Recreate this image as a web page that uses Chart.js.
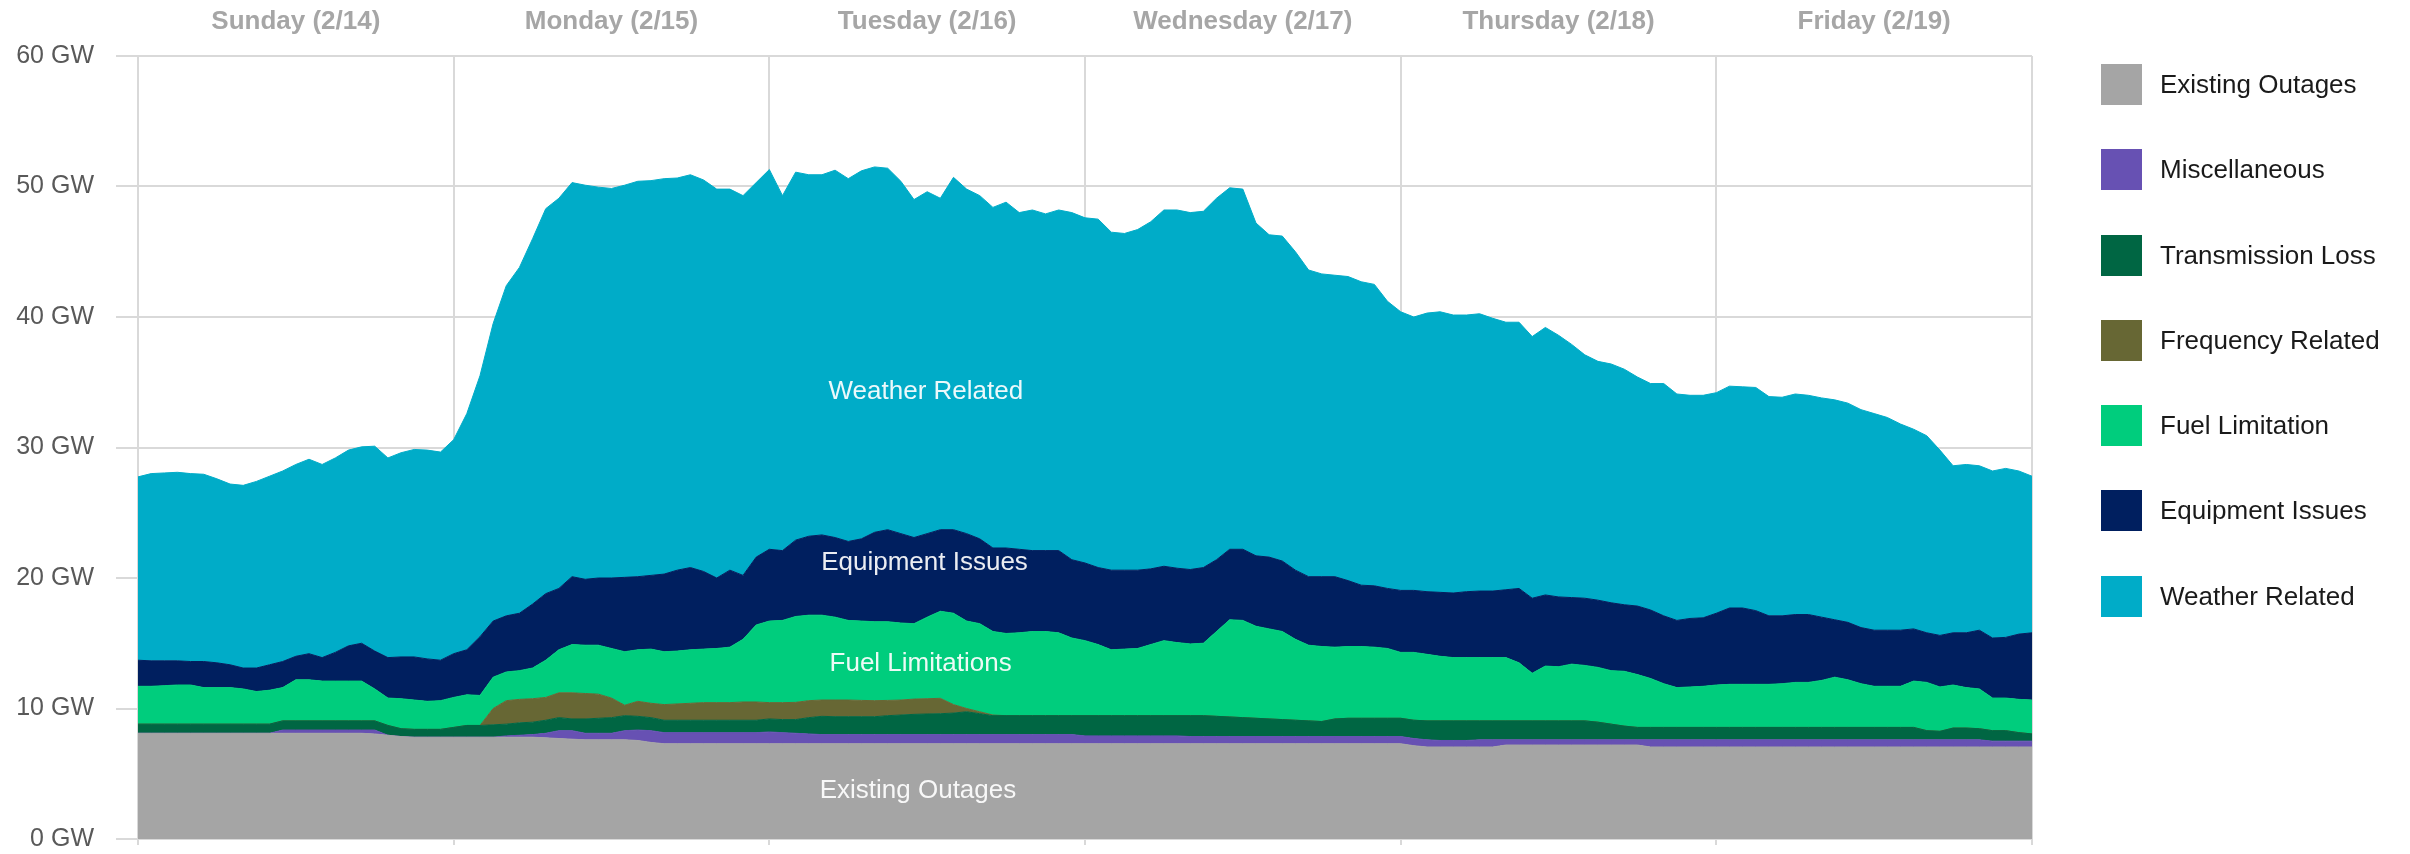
<!DOCTYPE html>
<html>
<head>
<meta charset="utf-8">
<title>Generation outages by cause</title>
<script src="https://cdn.jsdelivr.net/npm/chart.js@4.4.1/dist/chart.umd.min.js"></script>
<style>
  html, body { margin: 0; padding: 0; background: #fff; overflow: hidden; }
  #wrap   { position: relative; width: 2410px; height: 854px; }
  #legend { position: absolute; left: 2101px; top: 64px; font-family: "Liberation Sans", Arial, sans-serif; }
  .lg-item { display: flex; align-items: center; height: 41px; margin-bottom: 44.3px; }
  .lg-box  { width: 41px; height: 41px; flex: none; }
  .lg-text { margin-left: 18px; font-size: 26px; color: #1a1a1a; white-space: nowrap; }
</style>
</head>
<body>
<div id="wrap">
  <canvas id="outages" width="2410" height="854"></canvas>
  <div id="legend"></div>
</div>

<script>
/* ============================================================
   Outages by cause, hourly, Sun 2/14 – Fri 2/19 (GW)
   Each array is the top edge of its layer in the pile.
   ============================================================ */

const hours      = Array.from({ length: 145 }, (_, i) => i);   // hour 0 .. 144
const dayNames   = ['Sunday (2/14)', 'Monday (2/15)', 'Tuesday (2/16)', 'Wednesday (2/17)', 'Thursday (2/18)', 'Friday (2/19)'];
const dayCenters = [12, 36, 60, 84, 108, 132];
const yTicks     = [0, 10, 20, 30, 40, 50, 60];

const existingTop = [
  8.1, 8.1, 8.1, 8.1, 8.1, 8.1, 8.1, 8.1, 8.1, 8.1, 8.1, 8.1, 8.1, 8.1, 8.1, 8.1, 8.1, 8.1, 8.05, 7.95, 7.85, 7.8, 7.8, 7.8,
  7.8, 7.8, 7.8, 7.8, 7.8, 7.8, 7.8, 7.75, 7.7, 7.65, 7.6, 7.6, 7.6, 7.6, 7.55, 7.4, 7.3, 7.3, 7.3, 7.3, 7.3, 7.3, 7.3, 7.3,
  7.3, 7.3, 7.3, 7.3, 7.3, 7.3, 7.3, 7.3, 7.3, 7.3, 7.3, 7.3, 7.3, 7.3, 7.3, 7.3, 7.3, 7.3, 7.3, 7.3, 7.3, 7.3, 7.3, 7.3,
  7.3, 7.3, 7.3, 7.3, 7.3, 7.3, 7.3, 7.3, 7.3, 7.3, 7.3, 7.3, 7.3, 7.3, 7.3, 7.3, 7.3, 7.3, 7.3, 7.3, 7.3, 7.3, 7.3, 7.3,
  7.3, 7.15, 7.05, 7.05, 7.05, 7.05, 7.05, 7.05, 7.2, 7.2, 7.2, 7.2, 7.2, 7.2, 7.2, 7.2, 7.2, 7.2, 7.2, 7.05, 7.05, 7.05, 7.05, 7.05,
  7.05, 7.05, 7.05, 7.05, 7.05, 7.05, 7.05, 7.05, 7.05, 7.05, 7.05, 7.05, 7.05, 7.05, 7.05, 7.05, 7.05, 7.05, 7.05, 7.05, 7.05, 7.05, 7.05, 7.05, 7.05
];

const miscTop = [
  8.1, 8.1, 8.1, 8.1, 8.1, 8.1, 8.1, 8.1, 8.1, 8.1, 8.1, 8.35, 8.35, 8.35, 8.35, 8.35, 8.35, 8.35, 8.35, 7.95, 7.85, 7.8, 7.8, 7.8,
  7.8, 7.8, 7.8, 7.8, 7.9, 7.95, 8.0, 8.1, 8.3, 8.3, 8.1, 8.1, 8.1, 8.3, 8.35, 8.3, 8.15, 8.15, 8.15, 8.15, 8.15, 8.15, 8.15, 8.15,
  8.2, 8.15, 8.1, 8.05, 8.0, 8.0, 8.0, 8.0, 8.0, 8.0, 8.0, 8.0, 8.0, 8.0, 8.0, 8.0, 8.0, 8.0, 8.0, 8.0, 8.0, 8.0, 8.0, 8.0,
  7.9, 7.9, 7.9, 7.9, 7.9, 7.9, 7.9, 7.9, 7.85, 7.85, 7.85, 7.85, 7.85, 7.85, 7.85, 7.85, 7.85, 7.85, 7.85, 7.85, 7.85, 7.85, 7.85, 7.85,
  7.85, 7.7, 7.6, 7.55, 7.55, 7.55, 7.6, 7.6, 7.6, 7.6, 7.6, 7.6, 7.6, 7.6, 7.6, 7.6, 7.6, 7.6, 7.6, 7.6, 7.6, 7.6, 7.6, 7.6,
  7.6, 7.6, 7.6, 7.6, 7.6, 7.6, 7.6, 7.6, 7.6, 7.6, 7.6, 7.6, 7.6, 7.6, 7.6, 7.6, 7.6, 7.6, 7.6, 7.6, 7.6, 7.5, 7.5, 7.5, 7.5
];

const transmissionTop = [
  8.8, 8.8, 8.8, 8.8, 8.8, 8.8, 8.8, 8.8, 8.8, 8.8, 8.8, 9.05, 9.05, 9.05, 9.05, 9.05, 9.05, 9.05, 9.05, 8.7, 8.45, 8.4, 8.4, 8.4,
  8.55, 8.7, 8.7, 8.75, 8.8, 8.9, 8.95, 9.1, 9.3, 9.2, 9.2, 9.25, 9.3, 9.45, 9.4, 9.3, 9.1, 9.1, 9.1, 9.1, 9.1, 9.1, 9.1, 9.1,
  9.2, 9.15, 9.15, 9.3, 9.4, 9.37, 9.37, 9.37, 9.37, 9.45, 9.5, 9.55, 9.58, 9.6, 9.65, 9.75, 9.6, 9.45, 9.45, 9.45, 9.45, 9.45, 9.45, 9.45,
  9.45, 9.45, 9.45, 9.45, 9.45, 9.45, 9.45, 9.45, 9.45, 9.45, 9.4, 9.35, 9.3, 9.25, 9.2, 9.15, 9.1, 9.05, 9.0, 9.2, 9.25, 9.25, 9.25, 9.25,
  9.25, 9.1, 9.05, 9.05, 9.05, 9.05, 9.05, 9.05, 9.05, 9.05, 9.05, 9.05, 9.05, 9.05, 9.05, 8.95, 8.8, 8.65, 8.55, 8.55, 8.55, 8.55, 8.55, 8.55,
  8.55, 8.55, 8.55, 8.55, 8.55, 8.55, 8.55, 8.55, 8.55, 8.55, 8.55, 8.55, 8.55, 8.55, 8.55, 8.55, 8.3, 8.25, 8.5, 8.5, 8.45, 8.3, 8.3, 8.15, 8.05
];

const frequencyTop = [
  8.8, 8.8, 8.8, 8.8, 8.8, 8.8, 8.8, 8.8, 8.8, 8.8, 8.8, 9.05, 9.05, 9.05, 9.05, 9.05, 9.05, 9.05, 9.05, 8.7, 8.45, 8.4, 8.4, 8.4,
  8.55, 8.7, 8.7, 10.0, 10.6, 10.7, 10.75, 10.85, 11.2, 11.2, 11.15, 11.1, 10.8, 10.25, 10.55, 10.4, 10.3, 10.35, 10.4, 10.45, 10.45, 10.45, 10.5, 10.5,
  10.45, 10.45, 10.47, 10.6, 10.65, 10.65, 10.65, 10.62, 10.6, 10.62, 10.65, 10.72, 10.75, 10.78, 10.3, 10.0, 9.75, 9.5, 9.45, 9.45, 9.45, 9.45, 9.45, 9.45,
  9.45, 9.45, 9.45, 9.45, 9.45, 9.45, 9.45, 9.45, 9.45, 9.45, 9.4, 9.35, 9.3, 9.25, 9.2, 9.15, 9.1, 9.05, 9.0, 9.2, 9.25, 9.25, 9.25, 9.25,
  9.25, 9.1, 9.05, 9.05, 9.05, 9.05, 9.05, 9.05, 9.05, 9.05, 9.05, 9.05, 9.05, 9.05, 9.05, 8.95, 8.8, 8.65, 8.55, 8.55, 8.55, 8.55, 8.55, 8.55,
  8.55, 8.55, 8.55, 8.55, 8.55, 8.55, 8.55, 8.55, 8.55, 8.55, 8.55, 8.55, 8.55, 8.55, 8.55, 8.55, 8.3, 8.25, 8.5, 8.5, 8.45, 8.3, 8.3, 8.15, 8.05
];

const fuelTop = [
  11.7, 11.7, 11.75, 11.8, 11.8, 11.6, 11.6, 11.6, 11.5, 11.3, 11.4, 11.6, 12.2, 12.2, 12.1, 12.1, 12.1, 12.1, 11.5, 10.8, 10.75, 10.65, 10.55, 10.6,
  10.85, 11.05, 11.0, 12.4, 12.8, 12.9, 13.1, 13.7, 14.5, 14.9, 14.85, 14.85, 14.6, 14.35, 14.5, 14.55, 14.35, 14.4, 14.5, 14.55, 14.6, 14.7, 15.3, 16.4,
  16.7, 16.75, 17.05, 17.15, 17.15, 17.0, 16.75, 16.7, 16.65, 16.65, 16.55, 16.5, 17.0, 17.45, 17.3, 16.7, 16.5, 15.9, 15.75, 15.8, 15.9, 15.9, 15.8, 15.4,
  15.2, 14.9, 14.5, 14.55, 14.6, 14.9, 15.2, 15.05, 14.95, 15.0, 15.9, 16.8, 16.75, 16.3, 16.1, 15.9, 15.3, 14.85, 14.75, 14.7, 14.75, 14.75, 14.7, 14.6,
  14.3, 14.3, 14.15, 14.0, 13.9, 13.9, 13.9, 13.9, 13.9, 13.5, 12.7, 13.25, 13.2, 13.4, 13.3, 13.15, 12.9, 12.85, 12.6, 12.3, 11.9, 11.6, 11.65, 11.7,
  11.8, 11.85, 11.85, 11.85, 11.85, 11.9, 12.0, 12.0, 12.15, 12.4, 12.2, 11.9, 11.7, 11.7, 11.7, 12.1, 12.0, 11.65, 11.8, 11.6, 11.5, 10.8, 10.8, 10.7, 10.65
];

const equipmentTop = [
  13.7, 13.65, 13.65, 13.65, 13.6, 13.6, 13.5, 13.35, 13.1, 13.1, 13.35, 13.6, 14.0, 14.2, 13.9, 14.3, 14.8, 15.0, 14.4, 13.9, 13.95, 13.95, 13.8, 13.7,
  14.2, 14.5, 15.5, 16.7, 17.1, 17.3, 18.0, 18.8, 19.2, 20.1, 19.9, 20.0, 20.0, 20.05, 20.1, 20.2, 20.3, 20.6, 20.8, 20.5, 20.0, 20.6, 20.2, 21.6,
  22.2, 22.1, 22.9, 23.2, 23.3, 23.1, 22.8, 23.0, 23.5, 23.7, 23.4, 23.1, 23.4, 23.7, 23.7, 23.4, 23.0, 22.3, 22.3, 22.2, 22.1, 22.1, 22.1, 21.4,
  21.15, 20.8, 20.6, 20.6, 20.6, 20.7, 20.9, 20.75, 20.65, 20.8, 21.4, 22.2, 22.2, 21.7, 21.6, 21.3, 20.6, 20.1, 20.1, 20.1, 19.8, 19.45, 19.4, 19.2,
  19.05, 19.05, 18.95, 18.9, 18.85, 18.95, 19.0, 19.0, 19.1, 19.2, 18.45, 18.7, 18.55, 18.5, 18.45, 18.3, 18.1, 17.95, 17.85, 17.55, 17.1, 16.75, 16.9, 16.95,
  17.3, 17.7, 17.7, 17.5, 17.1, 17.1, 17.2, 17.2, 17.0, 16.8, 16.6, 16.2, 16.0, 16.0, 16.0, 16.1, 15.8, 15.6, 15.8, 15.8, 16.0, 15.4, 15.45, 15.7, 15.8
];

const weatherTop = [
  27.75, 28.0, 28.05, 28.1, 28.0, 27.95, 27.6, 27.2, 27.1, 27.4, 27.8, 28.2, 28.7, 29.1, 28.7, 29.2, 29.8, 30.05, 30.1, 29.2, 29.6, 29.85, 29.8, 29.65,
  30.6, 32.6, 35.5, 39.5, 42.4, 43.8, 46.0, 48.3, 49.1, 50.3, 50.1, 49.95, 49.85, 50.1, 50.4, 50.45, 50.6, 50.65, 50.9, 50.5, 49.8, 49.8, 49.3, 50.3,
  51.3, 49.3, 51.1, 50.9, 50.9, 51.25, 50.6, 51.2, 51.5, 51.4, 50.4, 49.0, 49.6, 49.1, 50.7, 49.8, 49.3, 48.4, 48.8, 48.0, 48.2, 47.9, 48.2, 48.0,
  47.6, 47.5, 46.5, 46.4, 46.7, 47.3, 48.2, 48.2, 48.0, 48.1, 49.1, 49.9, 49.8, 47.2, 46.3, 46.2, 45.0, 43.6, 43.3, 43.2, 43.1, 42.7, 42.5, 41.2,
  40.4, 40.0, 40.3, 40.4, 40.15, 40.15, 40.25, 39.9, 39.6, 39.6, 38.5, 39.2, 38.6, 37.9, 37.1, 36.6, 36.4, 36.0, 35.4, 34.9, 34.9, 34.1, 34.0, 34.0,
  34.2, 34.7, 34.65, 34.6, 33.9, 33.85, 34.1, 34.0, 33.8, 33.65, 33.4, 32.9, 32.6, 32.3, 31.8, 31.4, 30.9, 29.8, 28.6, 28.7, 28.6, 28.2, 28.4, 28.2, 27.8
];

const layerNames  = ['Existing Outages', 'Miscellaneous', 'Transmission Loss', 'Frequency Related', 'Fuel Limitation', 'Equipment Issues', 'Weather Related'];
const layerColors = ['#a5a5a5', '#6751b3', '#006643', '#676734', '#00cd7d', '#001f5f', '#00acc8'];
const layerTops   = [existingTop, miscTop, transmissionTop, frequencyTop, fuelTop, equipmentTop, weatherTop];

// captions written inside the areas (x in hours, y in GW)
const areaLabels = [
  { text: 'Weather Related',   x: 59.9, y: 34.3 },
  { text: 'Equipment Issues',  x: 59.8, y: 21.15 },
  { text: 'Fuel Limitations',  x: 59.5, y: 13.4 },
  { text: 'Existing Outages',  x: 59.3, y: 3.7 }
];

const FONT = '"Liberation Sans", Arial, sans-serif';
Chart.defaults.font.family = FONT;

/* ── Captions plugin ────────────────────────────────────────── */
const areaLabelPlugin = {
  id: 'areaLabels',
  afterDraw(chart) {
    const { ctx, scales: { x, y } } = chart;
    ctx.save();
    ctx.font = '26px ' + FONT;
    ctx.textAlign = 'center';
    ctx.textBaseline = 'middle';
    ctx.fillStyle = 'rgba(255,255,255,0.92)';
    areaLabels.forEach(l => ctx.fillText(l.text, x.getPixelForValue(l.x), y.getPixelForValue(l.y)));
    ctx.restore();
  }
};

/* ── Chart ──────────────────────────────────────────────────── */
new Chart(document.getElementById('outages'), {
  type: 'line',
  data: {
    labels: hours,
    datasets: layerTops.map((tops, i) => ({
      label: layerNames[i],
      data: tops,
      backgroundColor: layerColors[i],
      borderColor: layerColors[i],
      borderWidth: 1,
      fill: i === 0 ? 'origin' : '-1',
      pointRadius: 0,
      tension: 0
    }))
  },
  options: {
    responsive: false,
    animation: false,
    devicePixelRatio: 1,
    layout: { autoPadding: false, padding: { left: 0, top: 0, right: 378, bottom: 0 } },
    plugins: {
      legend:  { display: false },
      tooltip: { enabled: false }
    },
    scales: {
      x: {
        type: 'linear', min: 0, max: 144, z: 1,
        ticks: { display: false, stepSize: 24 },
        grid: { color: '#d9d9d9', lineWidth: 2, tickLength: 6 },
        border: { display: false },
        afterFit: s => { s.height = 15; s.paddingLeft = 0; s.paddingRight = 0; }
      },
      xTop: {
        type: 'linear', position: 'top', min: 0, max: 144,
        grid: { display: false, drawTicks: false },
        border: { display: false },
        afterBuildTicks: s => { s.ticks = dayCenters.map(v => ({ value: v })); },
        ticks: {
          callback: (v, i) => dayNames[i],
          color: '#a6a6a6',
          font: { size: 26, weight: 'bold' },
          padding: 19,
          autoSkip: false,
          maxRotation: 0
        },
        afterFit: s => { s.height = 56; s.paddingLeft = 0; s.paddingRight = 0; }
      },
      y: {
        min: 0, max: 60, z: 1,
        afterBuildTicks: s => { s.ticks = yTicks.map(v => ({ value: v })); },
        ticks: { callback: v => v + ' GW', color: '#595959', font: { size: 25 }, padding: 22 },
        grid: { color: '#d9d9d9', lineWidth: 2, tickLength: 22 },
        border: { display: false },
        // keep the plot edges fixed: no extra room for the half-height end labels
        afterFit: s => { s.width = 138; s.paddingTop = 0; s.paddingBottom = 0; }
      }
    }
  },
  plugins: [areaLabelPlugin]
});

/* ── Legend ─────────────────────────────────────────────────── */
document.getElementById('legend').innerHTML = layerNames.map((name, i) => `
  <div class="lg-item">
    <div class="lg-box" style="background:${layerColors[i]}"></div>
    <div class="lg-text">${name}</div>
  </div>`).join('');
</script>
</body>
</html>
